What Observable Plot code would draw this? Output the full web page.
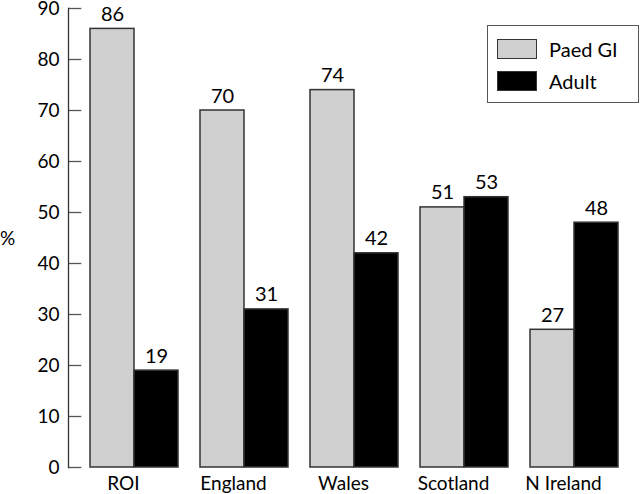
<!DOCTYPE html>
<html>
<head>
<meta charset="utf-8">
<script src="https://cdn.jsdelivr.net/npm/d3@7"></script>
<script src="https://cdn.jsdelivr.net/npm/@observablehq/plot@0.6"></script>
<style>
  html, body { margin: 0; padding: 0; background: #fff; }
  #wrap { position: relative; width: 640px; height: 494px; font-family: Lato, "DejaVu Sans", sans-serif; }
  #ylab { position: absolute; left: 0px; top: 226px; font-size: 19px; }
  #legend { position: absolute; left: 487px; top: 25px; width: 150px; height: 76px; border: 1.3px solid #555; box-sizing: content-box; font-size: 20px; }
  .item { position: absolute; left: 9px; display: flex; align-items: center; }
  .sw { width: 40px; height: 20px; border: 1.5px solid #333; box-sizing: border-box; margin-right: 12px; }
</style>
</head>
<body>
<div id="wrap"></div>
<script>
const countries = ["ROI", "England", "Wales", "Scotland", "N Ireland"];
const seriesNames = ["Paed GI", "Adult"];
const paedValues = [86, 70, 74, 51, 27];
const adultValues = [19, 31, 42, 53, 48];
const yTicks = [0, 10, 20, 30, 40, 50, 60, 70, 80, 90];
const seriesColors = ["#d0d0d0", "#000000"];

const rows = [];
countries.forEach((c, i) => {
  rows.push({country: c, series: seriesNames[0], value: paedValues[i]});
  rows.push({country: c, series: seriesNames[1], value: adultValues[i]});
});

const fxRange = [66, 619.5];
const facetWidth = (fxRange[1] - fxRange[0]) / countries.length;
const tickLength = 14;

const chart = Plot.plot({
  width: 640,
  height: 494,
  marginTop: 8,
  marginBottom: 27,
  marginLeft: 68,
  marginRight: 1,
  style: {fontFamily: "Lato, 'DejaVu Sans', sans-serif", fontSize: "19px", color: "#000", background: "#fff"},
  fx: {domain: countries, range: fxRange, padding: 0, label: null, tickSize: 0, tickPadding: 9, line: true},
  x: {domain: seriesNames, paddingInner: 0, paddingOuter: 0.25, align: 1, axis: null},
  y: {domain: [0, 90], axis: null},
  color: {domain: seriesNames, range: seriesColors},
  marks: [
    Plot.axisY({ticks: yTicks, tickSize: 0, tickPadding: 9, label: null}),
    Plot.ruleY(yTicks, {y: d => d, fx: () => countries[0], insetRight: facetWidth - tickLength, stroke: "#555", strokeWidth: 1.3}),
    Plot.frame({anchor: "left", facetAnchor: "left", stroke: "#333", strokeWidth: 1.3}),
    Plot.barY(rows, {fx: "country", x: "series", y: "value", fill: "series", stroke: "#333", strokeWidth: 1.5}),
    Plot.text(rows, {fx: "country", x: "series", y: "value", text: d => String(d.value), dy: -8, lineAnchor: "bottom", fontSize: 20, fill: "#000"})
  ]
});

const wrap = document.getElementById("wrap");
wrap.appendChild(chart);

const ylab = document.createElement("div");
ylab.id = "ylab";
ylab.textContent = "%";
wrap.appendChild(ylab);

const legend = document.createElement("div");
legend.id = "legend";
seriesNames.forEach((s, i) => {
  const item = document.createElement("div");
  item.className = "item";
  item.style.top = (i === 0 ? 11 : 43) + "px";
  const sw = document.createElement("div");
  sw.className = "sw";
  sw.style.background = seriesColors[i];
  const label = document.createElement("span");
  label.textContent = s;
  item.appendChild(sw);
  item.appendChild(label);
  legend.appendChild(item);
});
wrap.appendChild(legend);
</script>
</body>
</html>
